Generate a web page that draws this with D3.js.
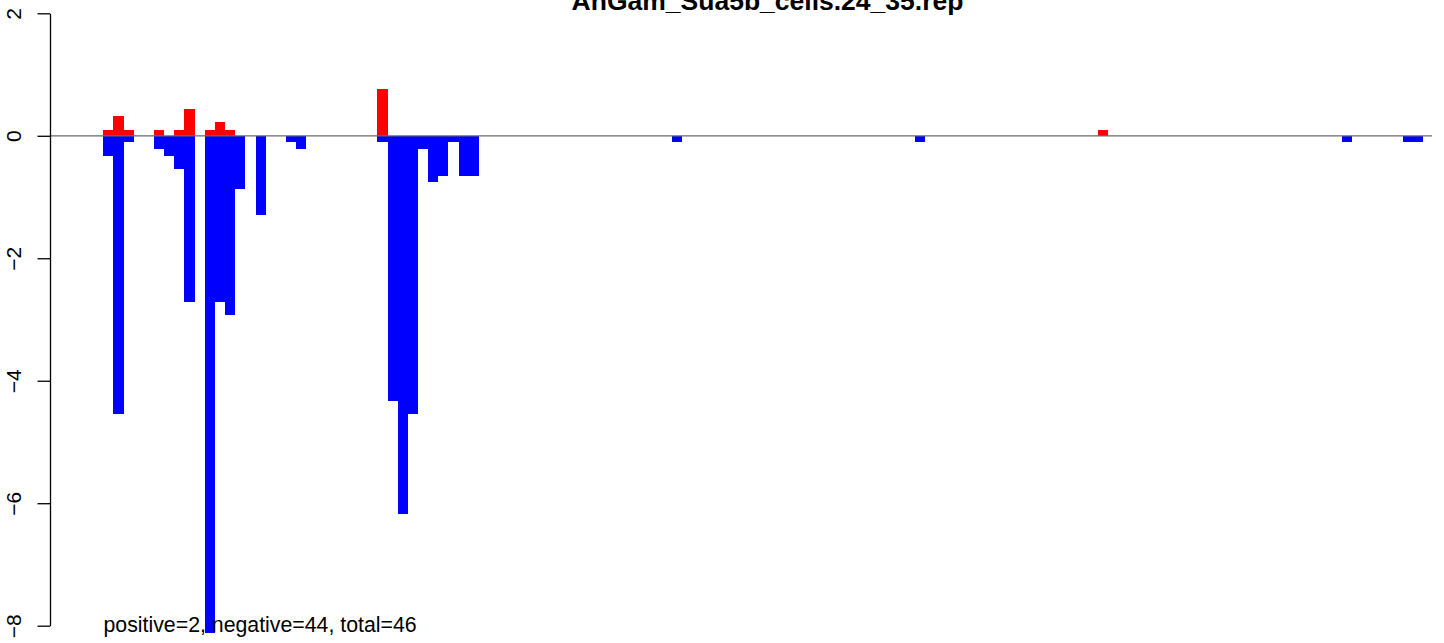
<!DOCTYPE html>
<html>
<head>
<meta charset="utf-8">
<script src="https://cdn.jsdelivr.net/npm/d3@7"></script>
<style>
  html, body { margin: 0; padding: 0; background: #fff; }
  svg { display: block; }
  text { font-family: "Liberation Sans", Arial, Helvetica, sans-serif; }
</style>
</head>
<body>
<svg id="chart" width="1444" height="643"></svg>
<script>
// ---- data ----
const chartTitle = "AnGam_Sua5b_cells.24_35.rep";
const footnote = "positive=2, negative=44, total=46";
const slots = [0, 1, 2, 5, 6, 7, 8, 10, 11, 12, 13, 15, 18, 19, 27, 28, 29, 30, 31, 32, 33, 34, 35, 36, 56, 80, 98, 122, 128, 129];
const positiveValues = [0.10, 0.32, 0.10, 0.10, 0, 0.10, 0.43, 0.10, 0.22, 0.10, 0, 0, 0, 0, 0.76, 0, 0, 0, 0, 0, 0, 0, 0, 0, 0, 0, 0.10, 0, 0, 0];
const negativeValues = [-0.33, -4.55, -0.10, -0.22, -0.33, -0.545, -2.72, -8.12, -2.72, -2.93, -0.87, -1.30, -0.10, -0.22, -0.10, -4.33, -6.18, -4.55, -0.22, -0.76, -0.66, -0.10, -0.66, -0.66, -0.10, -0.10, 0, -0.10, -0.10, -0.10];
const yTicks = [-8, -6, -4, -2, 0, 2];
const xDomain = [-5.25, 130.9];
const yDomain = [-8, 2];

// ---- layout ----
const svg = d3.select("#chart");
const plotLeft = 50, plotRight = 1432, plotTop = 13.3, plotBottom = 625.7;

const x = d3.scaleLinear().domain(xDomain).range([plotLeft, plotRight]);
const y = d3.scaleLinear().domain(yDomain).range([plotBottom, plotTop]);

const rows = slots.map((s, i) => ({ s, pos: positiveValues[i], neg: negativeValues[i] }));

// negative bars (blue)
svg.append("g").selectAll("rect")
  .data(rows.filter(d => d.neg < 0))
  .join("rect")
  .attr("x", d => x(d.s))
  .attr("width", d => x(d.s + 1) - x(d.s))
  .attr("y", y(0))
  .attr("height", d => y(d.neg) - y(0))
  .attr("fill", "#0000ff")
  .attr("shape-rendering", "crispEdges");

// positive bars (red)
svg.append("g").selectAll("rect")
  .data(rows.filter(d => d.pos > 0))
  .join("rect")
  .attr("x", d => x(d.s))
  .attr("width", d => x(d.s + 1) - x(d.s))
  .attr("y", d => y(d.pos))
  .attr("height", d => y(0) - y(d.pos))
  .attr("fill", "#ff0000")
  .attr("shape-rendering", "crispEdges");

// zero line
svg.append("line")
  .attr("x1", plotLeft).attr("x2", plotRight)
  .attr("y1", y(0)).attr("y2", y(0))
  .attr("stroke", "#6a6a6a").attr("stroke-width", 1.3);

// y axis
const yAxis = d3.axisLeft(y).tickValues(yTicks).tickSize(12.5).tickSizeOuter(0).tickFormat(d3.format("d"));
const gy = svg.append("g").attr("transform", `translate(${plotLeft},0)`).call(yAxis);
gy.select(".domain").attr("stroke", "#000").attr("stroke-width", 1.3);
gy.selectAll(".tick line").attr("stroke", "#000").attr("stroke-width", 1.3);
gy.selectAll(".tick text")
  .attr("x", null).attr("dy", null)
  .attr("transform", "translate(-29.5,0) rotate(-90)")
  .attr("text-anchor", "middle")
  .attr("fill", "#000")
  .style("font-size", "21px")
  .style("font-family", "'Liberation Sans', Arial, sans-serif");

// title
svg.append("text")
  .attr("x", 767.5).attr("y", 10)
  .attr("text-anchor", "middle")
  .style("font-size", "26.5px").style("font-weight", "bold")
  .attr("fill", "#000")
  .text(chartTitle);

// footnote
svg.append("text")
  .attr("x", 103.5).attr("y", 632)
  .style("font-size", "21.3px")
  .attr("fill", "#000")
  .text(footnote);
</script>
</body>
</html>
